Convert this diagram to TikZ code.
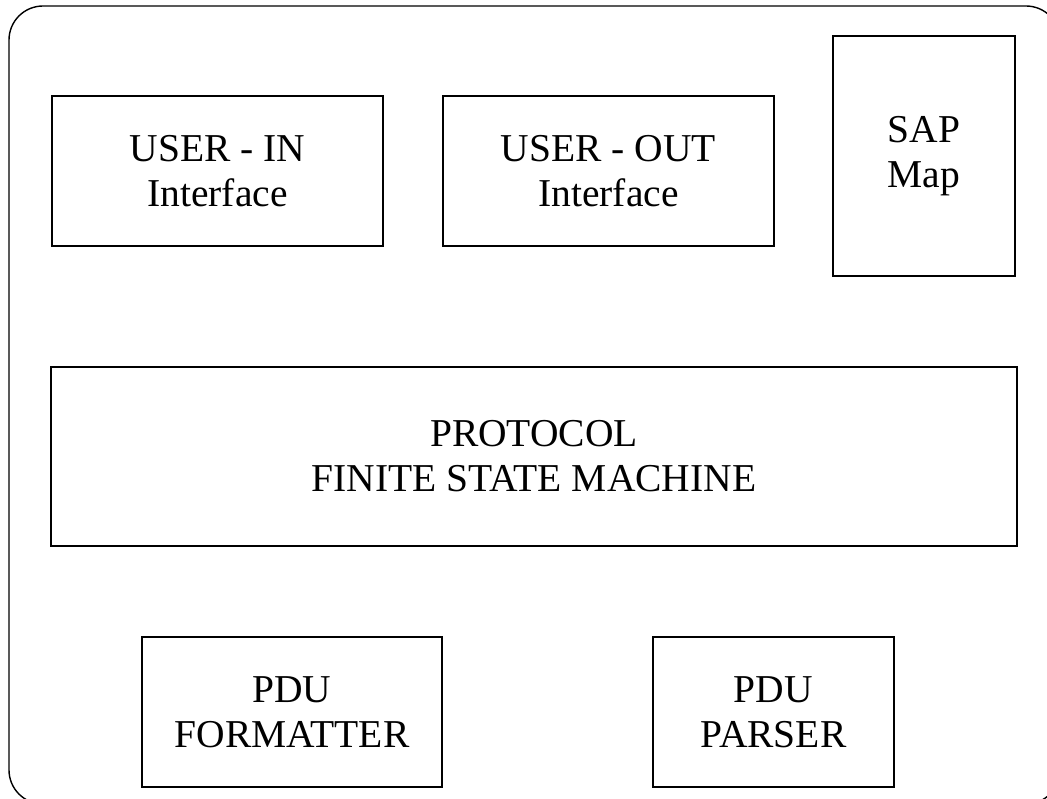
\documentclass[tikz,border=0pt]{standalone}
\usepackage{fontspec}
\setmainfont{Liberation Serif}
\begin{document}
\begin{tikzpicture}[x=1pt,y=-1pt,
  blk/.style={draw=black, line width=1.4pt, rectangle, align=center, inner sep=0pt,
    font=\fontsize{39.5}{45}\selectfont}]
\useasboundingbox (0,0) rectangle (1047,799);
\clip (0,0) rectangle (1047,799);
\draw[line width=1.4pt, rounded corners=34pt] (9,6) rectangle (1060,804);
\node[blk, minimum width=331pt, minimum height=150pt] (uin) at (217.5,171) {USER - IN\\Interface};
\node[blk, minimum width=331pt, minimum height=150pt] (uout) at (608.5,171) {USER - OUT\\Interface};
\node[blk, minimum width=182pt, minimum height=240pt] (sap) at (924,156) {SAP\\Map};
\node[blk, minimum width=966pt, minimum height=179pt] (fsm) at (534,456.5) {PROTOCOL\\FINITE STATE MACHINE};
\node[blk, minimum width=300pt, minimum height=150pt] (fmt) at (292,712) {PDU\\FORMATTER};
\node[blk, minimum width=241pt, minimum height=150pt] (prs) at (773.5,712) {PDU\\PARSER};
\end{tikzpicture}
\end{document}
